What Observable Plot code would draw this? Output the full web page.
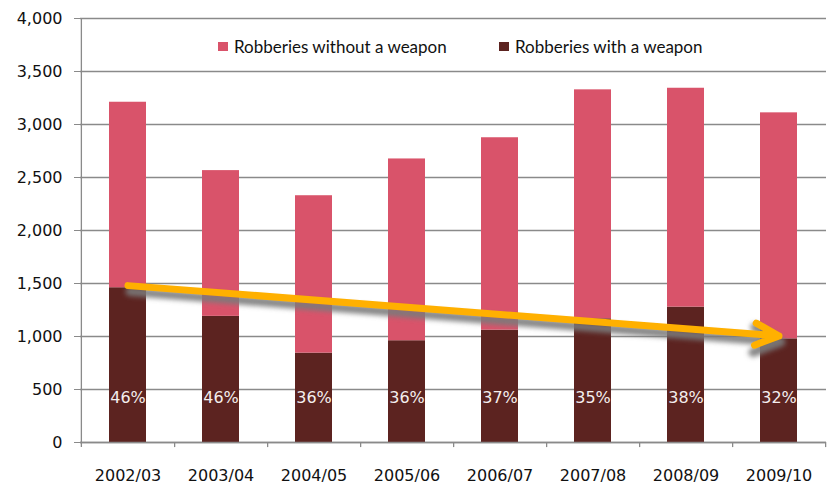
<!DOCTYPE html>
<html>
<head>
<meta charset="utf-8">
<script src="https://cdn.jsdelivr.net/npm/d3@7"></script>
<script src="https://cdn.jsdelivr.net/npm/@observablehq/plot@0.6"></script>
<style>
  html, body { margin: 0; padding: 0; background: #fff; }
  #wrap { position: relative; width: 838px; height: 484px; font-family: "DejaVu Sans", sans-serif; }
  .legend { position: absolute; top: 35px; left: 0; height: 22px; display: flex; align-items: center; font-family: Lato, sans-serif; font-size: 17px; color: #111; white-space: nowrap; }
  .legend .sw { display: inline-block; width: 10px; height: 9px; margin-right: 6px; }
</style>
</head>
<body>
<div id="wrap"></div>
<script>
const categories = ["2002/03", "2003/04", "2004/05", "2005/06", "2006/07", "2007/08", "2008/09", "2009/10"];
const withWeapon = [1460, 1190, 843, 960, 1060, 1167, 1277, 978];
const withoutWeapon = [1750, 1375, 1485, 1715, 1815, 2160, 2065, 2132];
const pctLabels = ["46%", "46%", "36%", "36%", "37%", "35%", "38%", "32%"];
const seriesNames = ["Robberies with a weapon", "Robberies without a weapon"];
const seriesColors = ["#5C2320", "#D9536A"];
const yTicks = [0, 500, 1000, 1500, 2000, 2500, 3000, 3500, 4000];
const trendFrom = ["2002/03", 1480];
const trendTo = ["2009/10", 1005];

const rows = [];
categories.forEach((c, i) => {
  rows.push({cat: c, series: seriesNames[0], value: withWeapon[i]});
  rows.push({cat: c, series: seriesNames[1], value: withoutWeapon[i]});
});
const arrowData = [{x1: trendFrom[0], y1: trendFrom[1], x2: trendTo[0], y2: trendTo[1]}];

const W = 838, H = 484, mL = 80, mR = 12;
const step = (W - mL - mR) / categories.length;

const plot = Plot.plot({
  width: W,
  height: H,
  marginLeft: mL,
  marginRight: mR,
  marginTop: 18,
  marginBottom: 42,
  style: {fontFamily: "DejaVu Sans, sans-serif", fontSize: "16px", color: "#111", background: "#fff"},
  x: {domain: categories, paddingInner: 0.6, paddingOuter: 0.3, axis: null},
  y: {domain: [0, 4000], axis: null},
  color: {domain: seriesNames, range: seriesColors},
  marks: [
    Plot.gridY(yTicks, {stroke: "#8a8a8a", strokeOpacity: 1, strokeWidth: 1.3}),
    Plot.axisY({ticks: yTicks, tickFormat: d3.format(","), tickSize: 6, tickPadding: 12, stroke: "#8a8a8a", fill: "#111", fontSize: 16}),
    Plot.axisX({tickSize: 0, tickPadding: 27, fill: "#111", fontSize: 16}),
    Plot.barY(rows, {x: "cat", y: "value", fill: "series", order: seriesNames}),
    Plot.ruleY([0], {stroke: "#8a8a8a", strokeWidth: 1.3}),
    Plot.ruleX([categories[0]], {x: d => d, dx: -step / 2, y1: -48, y2: 4000, stroke: "#8a8a8a", strokeWidth: 1.3}),
    Plot.ruleX(categories, {x: d => d, dx: step / 2, y1: -48, y2: 0, stroke: "#8a8a8a", strokeWidth: 1.3}),
    Plot.text(categories, {x: d => d, text: (d, i) => pctLabels[i], frameAnchor: "bottom", dy: -40, fill: "#f4eeee", fontSize: 16}),
    Plot.arrow(arrowData, {x1: "x1", y1: "y1", x2: "x2", y2: "y2", dy: 6, dx: 2, stroke: "#7a7a7a", strokeOpacity: 0.9, strokeWidth: 9, headAngle: 50, headLength: 5}),
    Plot.arrow(arrowData, {x1: "x1", y1: "y1", x2: "x2", y2: "y2", stroke: "#FFB000", strokeWidth: 7, headAngle: 50, headLength: 5.6})
  ]
});

// blur the shadow arrow
const svg = d3.select(plot);
svg.append("defs").append("filter").attr("id", "shadowBlur")
  .attr("x", "-5%").attr("y", "-50%").attr("width", "110%").attr("height", "200%")
  .append("feGaussianBlur").attr("stdDeviation", 2.5);
const arrows = svg.selectAll('g[aria-label="arrow"]');
if (arrows.size() > 1) d3.select(arrows.nodes()[0]).attr("filter", "url(#shadowBlur)");

const wrap = document.getElementById("wrap");
wrap.appendChild(plot);

const legendPos = [{x: 218, i: 1}, {x: 499, i: 0}];
legendPos.forEach(({x, i}) => {
  const d = document.createElement("div");
  d.className = "legend";
  d.style.left = x + "px";
  const sw = document.createElement("span");
  sw.className = "sw";
  sw.style.background = seriesColors[i];
  d.appendChild(sw);
  d.appendChild(document.createTextNode(seriesNames[i]));
  wrap.appendChild(d);
});
</script>
</body>
</html>
